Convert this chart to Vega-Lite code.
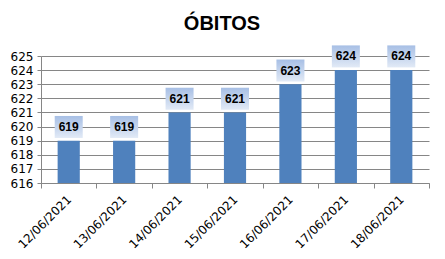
{
  "$schema": "https://vega.github.io/schema/vega-lite/v6.json",
  "autosize": {"type": "none"},
  "width": 388,
  "height": 127,
  "padding": {"left": 41, "top": 56, "right": 16, "bottom": 76},
  "background": "white",
  "title": {
    "text": "ÓBITOS",
    "font": "Liberation Sans",
    "fontSize": 20,
    "fontWeight": "bold",
    "color": "black",
    "anchor": "middle",
    "dx": -13,
    "offset": 11
  },
  "data": {
    "values": [
      {"date": "12/06/2021", "value": 619},
      {"date": "13/06/2021", "value": 619},
      {"date": "14/06/2021", "value": 621},
      {"date": "15/06/2021", "value": 621},
      {"date": "16/06/2021", "value": 623},
      {"date": "17/06/2021", "value": 624},
      {"date": "18/06/2021", "value": 624}
    ]
  },
  "encoding": {
    "x": {
      "field": "date",
      "type": "nominal",
      "sort": null,
      "scale": {"paddingInner": 0, "paddingOuter": 0},
      "axis": {
        "title": null,
        "labelAngle": -45,
        "labelAlign": "right",
        "labelBaseline": "middle",
        "labelFont": "DejaVu Sans",
        "labelFontSize": 12,
        "labelColor": "black",
        "labelPadding": 9,
        "tickBand": "extent",
        "tickSize": 5,
        "tickColor": "#868686",
        "domainColor": "#868686",
        "grid": false
      }
    },
    "y": {
      "field": "value",
      "type": "quantitative",
      "scale": {"domain": [616, 625], "zero": false, "nice": false},
      "axis": {
        "title": null,
        "values": [616, 617, 618, 619, 620, 621, 622, 623, 624, 625],
        "labelFont": "DejaVu Sans",
        "labelFontSize": 12,
        "labelColor": "black",
        "labelPadding": 4,
        "tickSize": 4,
        "tickColor": "#868686",
        "domainColor": "#868686",
        "grid": true,
        "gridColor": "#868686"
      }
    }
  },
  "layer": [
    {
      "mark": {"type": "bar", "color": "#4F81BD", "width": {"band": 0.4}},
      "encoding": {
        "y2": {"datum": 616}
      }
    },
    {
      "mark": {
        "type": "bar",
        "width": 28,
        "yOffset": -2.7,
        "y2Offset": -24.7,
        "color": {
          "gradient": "linear",
          "x1": 0, "y1": 0, "x2": 0, "y2": 1,
          "stops": [
            {"offset": 0, "color": "#A7BFE5"},
            {"offset": 1, "color": "#E2EAF6"}
          ]
        }
      },
      "encoding": {
        "y2": {"field": "value"}
      }
    },
    {
      "mark": {
        "type": "text",
        "font": "Liberation Sans",
        "fontSize": 12,
        "fontWeight": "bold",
        "color": "black",
        "baseline": "middle",
        "dy": -13.7
      },
      "encoding": {
        "text": {"field": "value", "type": "quantitative"}
      }
    }
  ],
  "config": {
    "view": {"stroke": null}
  }
}
